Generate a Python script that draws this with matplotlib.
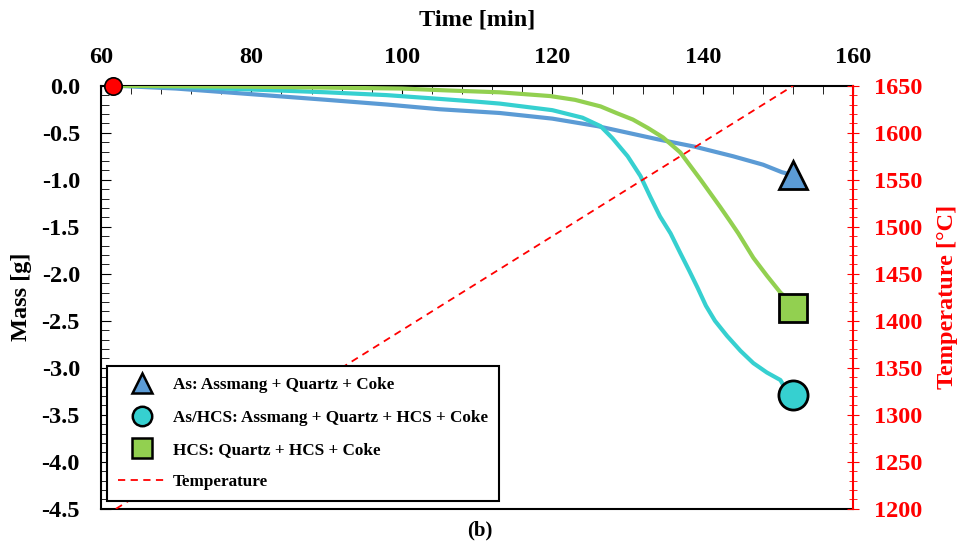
import matplotlib
matplotlib.use("Agg")
import matplotlib.pyplot as plt
from matplotlib.lines import Line2D
from matplotlib.ticker import MultipleLocator, FormatStrFormatter

plt.rcParams['font.family'] = ['Liberation Serif', 'DejaVu Serif']
plt.rcParams['font.weight'] = 'bold'

# Data
t_as = [62, 70, 80, 90, 98, 105, 113, 120, 126, 130, 134, 139, 144, 148, 150.5, 151]
m_as = [0, -0.03, -0.09, -0.15, -0.20, -0.25, -0.29, -0.35, -0.43, -0.50, -0.57, -0.65,
        -0.75, -0.84, -0.92, -0.93]

t_ashcs = [62, 70, 80, 90, 98, 105, 110, 113, 116, 120, 124, 126.4, 128, 130, 131.7, 133,
           134.3, 135.7, 137, 138.2, 139.3, 140.4, 141.6, 143.2, 145, 146.7, 148.5, 150.3, 150.8]
m_ashcs = [0, -0.01, -0.04, -0.07, -0.10, -0.14, -0.17, -0.19, -0.22, -0.26, -0.34, -0.43,
           -0.56, -0.75, -0.96, -1.18, -1.39, -1.57, -1.78, -1.97, -2.15, -2.34, -2.50,
           -2.66, -2.82, -2.95, -3.05, -3.13, -3.20]

t_hcs = [62, 80, 90, 100, 106, 113, 119.7, 123, 126.4, 128.5, 130.7, 132.7, 134.7, 137,
         139.7, 142.3, 143.6, 144.7, 146.7, 148.5, 150.3, 150.7]
m_hcs = [0, -0.01, -0.02, -0.03, -0.05, -0.07, -0.11, -0.15, -0.22, -0.29, -0.36, -0.45,
         -0.55, -0.71, -1.00, -1.29, -1.44, -1.57, -1.83, -2.02, -2.20, -2.23]

end_t = 152
end_as, end_ashcs, end_hcs = -0.95, -3.29, -2.36

t_temp = [62, 152]
temp = [1200, 1650]

start_t, start_m = 61.6, 0.0

labels = ["As: Assmang + Quartz + Coke",
          "As/HCS: Assmang + Quartz + HCS + Coke",
          "HCS: Quartz + HCS + Coke",
          "Temperature"]

c_as, c_ashcs, c_hcs = '#5B9BD5', '#36D0D0', '#92D050'

FS = 17.5

fig = plt.figure(figsize=(9.6, 5.46), dpi=100)
ax = fig.add_axes([0.105, 0.068, 0.784, 0.775])
ax2 = ax.twinx()

ax.plot(t_as, m_as, color=c_as, lw=3, zorder=3)
ax.plot(t_ashcs, m_ashcs, color=c_ashcs, lw=3, zorder=3)
ax.plot(t_hcs, m_hcs, color=c_hcs, lw=3, zorder=3)
ax.plot([end_t], [end_as], marker='^', ms=20, mfc=c_as, mec='black', mew=2, ls='none', zorder=5)
ax.plot([end_t], [end_ashcs], marker='o', ms=21, mfc=c_ashcs, mec='black', mew=2, ls='none', zorder=5)
ax.plot([end_t], [end_hcs], marker='s', ms=20, mfc=c_hcs, mec='black', mew=2, ls='none', zorder=5)

ax2.plot(t_temp, temp, color='red', ls=(0, (4, 3)), lw=1.3)

ax.set_xlim(60, 160)
ax.set_ylim(-4.5, 0)
ax2.set_ylim(1200, 1650)

ax.xaxis.tick_top()
ax.xaxis.set_label_position('top')
ax.set_xlabel('Time [min]', fontsize=FS, fontweight='bold', labelpad=15)
ax.set_ylabel('Mass [g]', fontsize=FS, fontweight='bold', labelpad=7)
ax2.set_ylabel('Temperature [°C]', fontsize=FS, fontweight='bold', color='red', labelpad=10)

ax.xaxis.set_major_locator(MultipleLocator(20))
ax.xaxis.set_minor_locator(MultipleLocator(4))
ax.yaxis.set_major_locator(MultipleLocator(0.5))
ax.yaxis.set_minor_locator(MultipleLocator(0.1))
ax2.yaxis.set_major_locator(MultipleLocator(50))
ax2.yaxis.set_minor_locator(MultipleLocator(10))

ax.yaxis.set_major_formatter(FormatStrFormatter('%.1f'))

ax.tick_params(axis='x', which='both', direction='in', top=True, bottom=False,
               labeltop=True, labelbottom=False, labelsize=FS, pad=13)
ax.tick_params(axis='x', which='major', length=6)
ax.tick_params(axis='x', which='minor', length=6)
ax.tick_params(axis='y', which='both', direction='in', labelsize=FS, pad=15)
ax.tick_params(axis='y', which='major', length=7)
ax.tick_params(axis='y', which='minor', length=6)
ax2.tick_params(axis='y', which='both', direction='inout', colors='red', labelsize=FS, pad=11)
ax2.tick_params(axis='y', which='major', length=8)
ax2.tick_params(axis='y', which='minor', length=6)
for lab in ax.get_xticklabels() + ax.get_yticklabels() + ax2.get_yticklabels():
    lab.set_fontweight('bold')

for s in ['left', 'top', 'bottom']:
    ax.spines[s].set_linewidth(1.5)
ax2.spines['right'].set_color('red')
ax2.spines['right'].set_linewidth(1.5)
ax2.spines['left'].set_visible(False)
ax2.spines['top'].set_visible(False)
ax2.spines['bottom'].set_visible(False)
ax.spines['right'].set_visible(False)

# start marker drawn above everything
ax2.plot([start_t], [1650], marker='o', ms=12.5, mfc='red', mec='black', mew=1.2, ls='none',
         zorder=10, clip_on=False)

handles = [
    Line2D([], [], marker='^', ms=14, mfc=c_as, mec='black', mew=1.8, ls='none'),
    Line2D([], [], marker='o', ms=14, mfc=c_ashcs, mec='black', mew=1.8, ls='none'),
    Line2D([], [], marker='s', ms=14, mfc=c_hcs, mec='black', mew=1.8, ls='none'),
    Line2D([], [], color='red', ls=(0, (4, 3)), lw=1.3),
]
leg = ax2.legend(handles, labels, loc='lower left', bbox_to_anchor=(0.008, 0.018),
                 prop={'family': 'Liberation Serif', 'weight': 'bold', 'size': 12.3},
                 frameon=True, fancybox=False, edgecolor='black', framealpha=1,
                 borderpad=0.65, labelspacing=0.95, handlelength=2.8, handletextpad=0.4,
                 borderaxespad=0)
leg.get_frame().set_linewidth(1.5)
leg.set_zorder(20)

fig.text(0.5, 0.028, '(b)', ha='center', va='center', fontsize=15, fontweight='bold')

fig.savefig('out.png', dpi=100)
